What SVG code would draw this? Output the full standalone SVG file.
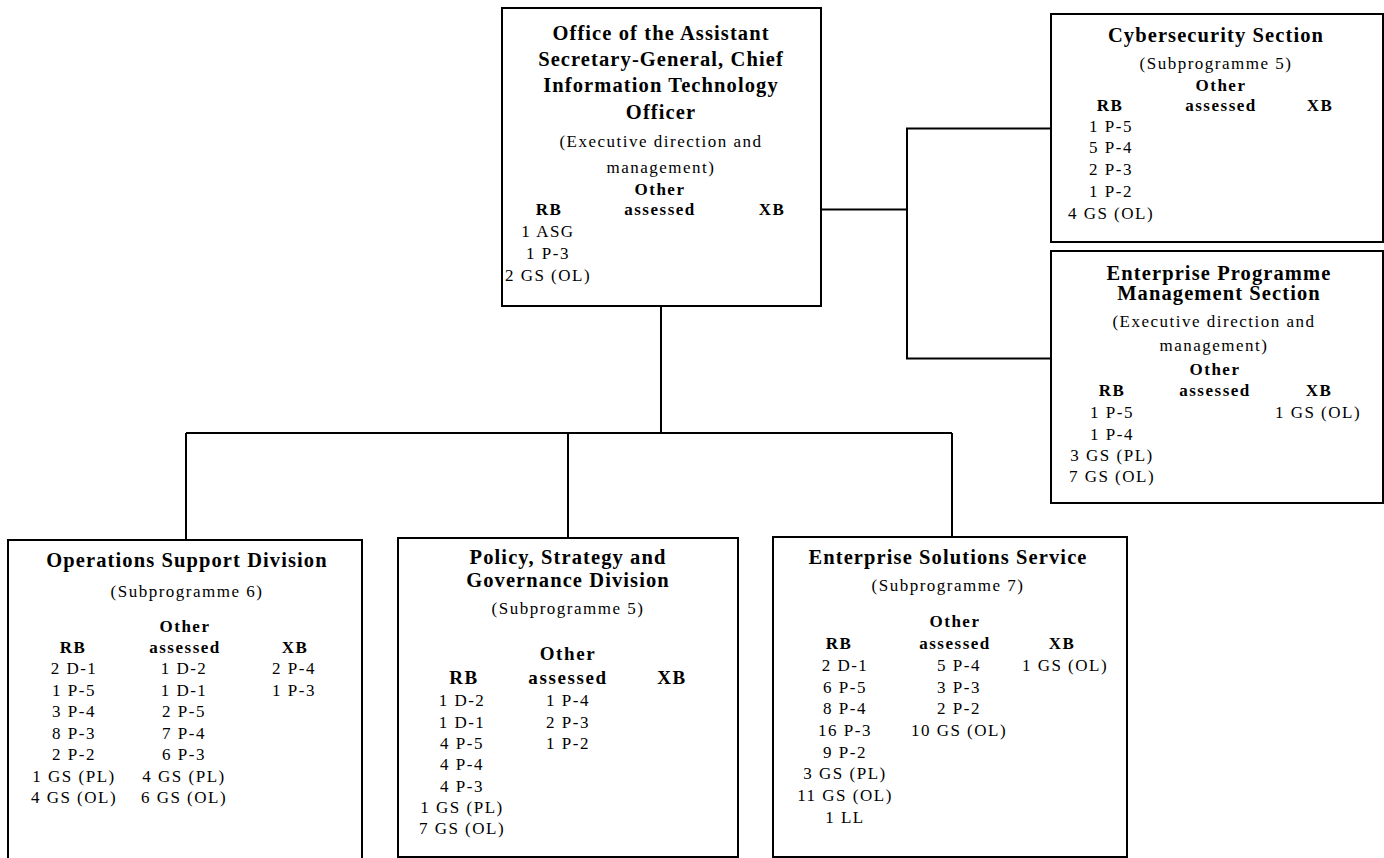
<svg xmlns="http://www.w3.org/2000/svg" width="1384" height="858" viewBox="0 0 1384 858">
<style>
  .box { fill: #ffffff; stroke: #000000; stroke-width: 2; }
  .conn { fill: none; stroke: #000000; stroke-width: 2; }
  text { font-family: "Liberation Serif", "Times New Roman", serif; fill: #000000; text-anchor: middle; }
  .t { font-size: 20.5px; font-weight: bold; letter-spacing: 1.1px; }
  .s { font-size: 17px; letter-spacing: 1.5px; }
  .h { font-size: 17px; font-weight: bold; letter-spacing: 1.5px; }
  .hl { font-size: 19px; font-weight: bold; letter-spacing: 1.6px; }
  .v { font-size: 17px; letter-spacing: 1.5px; }
</style>
<rect width="1384" height="858" fill="#ffffff"/>
<g id="connectors">
  <path class="conn" d="M661,306 V433 M186,433 H952 M186,433 V540 M568,433 V538 M952,433 V537"/>
  <path class="conn" d="M821,209.5 H907 M907,128.5 V358.5 M906,128.5 H1051 M906,358.5 H1051"/>
</g>
<g id="node-asg">
  <rect class="box" x="502" y="8" width="319" height="298"/>
  <text class="t" x="661" y="40">Office of the Assistant</text>
  <text class="t" x="661" y="65.5">Secretary-General, Chief</text>
  <text class="t" x="661" y="92">Information Technology</text>
  <text class="t" x="661" y="118.5">Officer</text>
  <text class="s" x="661" y="147">(Executive direction and</text>
  <text class="s" x="661" y="173">management)</text>
  <text class="h" x="660" y="195">Other</text>
  <text class="h" x="549" y="215">RB</text>
  <text class="h" x="660" y="215">assessed</text>
  <text class="h" x="772" y="215">XB</text>
  <text class="v" x="548" y="237">1 ASG</text>
  <text class="v" x="548" y="259">1 P-3</text>
  <text class="v" x="548" y="281">2 GS (OL)</text>
</g>
<g id="node-cyber">
  <rect class="box" x="1051" y="14" width="332" height="228"/>
  <text class="t" x="1216" y="42">Cybersecurity Section</text>
  <text class="s" x="1216" y="69">(Subprogramme 5)</text>
  <text class="h" x="1221" y="91">Other</text>
  <text class="h" x="1110" y="111">RB</text>
  <text class="h" x="1221" y="111">assessed</text>
  <text class="h" x="1320" y="111">XB</text>
  <text class="v" x="1111" y="131.5">1 P-5</text>
  <text class="v" x="1111" y="153">5 P-4</text>
  <text class="v" x="1111" y="175">2 P-3</text>
  <text class="v" x="1111" y="197">1 P-2</text>
  <text class="v" x="1111" y="219">4 GS (OL)</text>
</g>
<g id="node-epm">
  <rect class="box" x="1051" y="251" width="332" height="252"/>
  <text class="t" x="1219" y="280">Enterprise Programme</text>
  <text class="t" x="1219" y="300">Management Section</text>
  <text class="s" x="1214" y="327">(Executive direction and</text>
  <text class="s" x="1214" y="351">management)</text>
  <text class="h" x="1215" y="375">Other</text>
  <text class="h" x="1112" y="396">RB</text>
  <text class="h" x="1215" y="396">assessed</text>
  <text class="h" x="1319" y="396">XB</text>
  <text class="v" x="1112" y="418">1 P-5</text>
  <text class="v" x="1112" y="440">1 P-4</text>
  <text class="v" x="1112" y="461">3 GS (PL)</text>
  <text class="v" x="1112" y="482">7 GS (OL)</text>
  <text class="v" x="1318" y="418">1 GS (OL)</text>
</g>
<g id="node-ops">
  <rect class="box" x="8" y="540" width="354" height="330"/>
  <text class="t" x="187" y="567">Operations Support Division</text>
  <text class="s" x="187" y="597">(Subprogramme 6)</text>
  <text class="h" x="185" y="632">Other</text>
  <text class="h" x="73" y="653">RB</text>
  <text class="h" x="185" y="653">assessed</text>
  <text class="h" x="295" y="653">XB</text>
  <text class="v" x="74" y="674">2 D-1</text>
  <text class="v" x="74" y="695.5">1 P-5</text>
  <text class="v" x="74" y="717">3 P-4</text>
  <text class="v" x="74" y="738.5">8 P-3</text>
  <text class="v" x="74" y="760">2 P-2</text>
  <text class="v" x="74" y="781.5">1 GS (PL)</text>
  <text class="v" x="74" y="803">4 GS (OL)</text>
  <text class="v" x="184" y="674">1 D-2</text>
  <text class="v" x="184" y="695.5">1 D-1</text>
  <text class="v" x="184" y="717">2 P-5</text>
  <text class="v" x="184" y="738.5">7 P-4</text>
  <text class="v" x="184" y="760">6 P-3</text>
  <text class="v" x="184" y="781.5">4 GS (PL)</text>
  <text class="v" x="184" y="803">6 GS (OL)</text>
  <text class="v" x="294" y="674">2 P-4</text>
  <text class="v" x="294" y="695.5">1 P-3</text>
</g>
<g id="node-psg">
  <rect class="box" x="398" y="538" width="340" height="319"/>
  <text class="t" x="568" y="564">Policy, Strategy and</text>
  <text class="t" x="568" y="587">Governance Division</text>
  <text class="s" x="568" y="614">(Subprogramme 5)</text>
  <text class="hl" x="568" y="660">Other</text>
  <text class="hl" x="464" y="684">RB</text>
  <text class="hl" x="568" y="684">assessed</text>
  <text class="hl" x="672" y="684">XB</text>
  <text class="v" x="462" y="706">1 D-2</text>
  <text class="v" x="462" y="727.5">1 D-1</text>
  <text class="v" x="462" y="749">4 P-5</text>
  <text class="v" x="462" y="770">4 P-4</text>
  <text class="v" x="462" y="791.5">4 P-3</text>
  <text class="v" x="462" y="813">1 GS (PL)</text>
  <text class="v" x="462" y="834">7 GS (OL)</text>
  <text class="v" x="568" y="706">1 P-4</text>
  <text class="v" x="568" y="727.5">2 P-3</text>
  <text class="v" x="568" y="749">1 P-2</text>
</g>
<g id="node-ess">
  <rect class="box" x="773" y="537" width="354" height="320"/>
  <text class="t" x="948" y="564">Enterprise Solutions Service</text>
  <text class="s" x="948" y="591">(Subprogramme 7)</text>
  <text class="h" x="955" y="627">Other</text>
  <text class="h" x="839" y="649">RB</text>
  <text class="h" x="955" y="649">assessed</text>
  <text class="h" x="1062" y="649">XB</text>
  <text class="v" x="845" y="671">2 D-1</text>
  <text class="v" x="845" y="692.7">6 P-5</text>
  <text class="v" x="845" y="714.3">8 P-4</text>
  <text class="v" x="845" y="736">16 P-3</text>
  <text class="v" x="845" y="757.7">9 P-2</text>
  <text class="v" x="845" y="779.3">3 GS (PL)</text>
  <text class="v" x="845" y="801">11 GS (OL)</text>
  <text class="v" x="845" y="822.7">1 LL</text>
  <text class="v" x="959" y="671">5 P-4</text>
  <text class="v" x="959" y="692.7">3 P-3</text>
  <text class="v" x="959" y="714.3">2 P-2</text>
  <text class="v" x="959" y="736">10 GS (OL)</text>
  <text class="v" x="1065" y="671">1 GS (OL)</text>
</g>
</svg>
